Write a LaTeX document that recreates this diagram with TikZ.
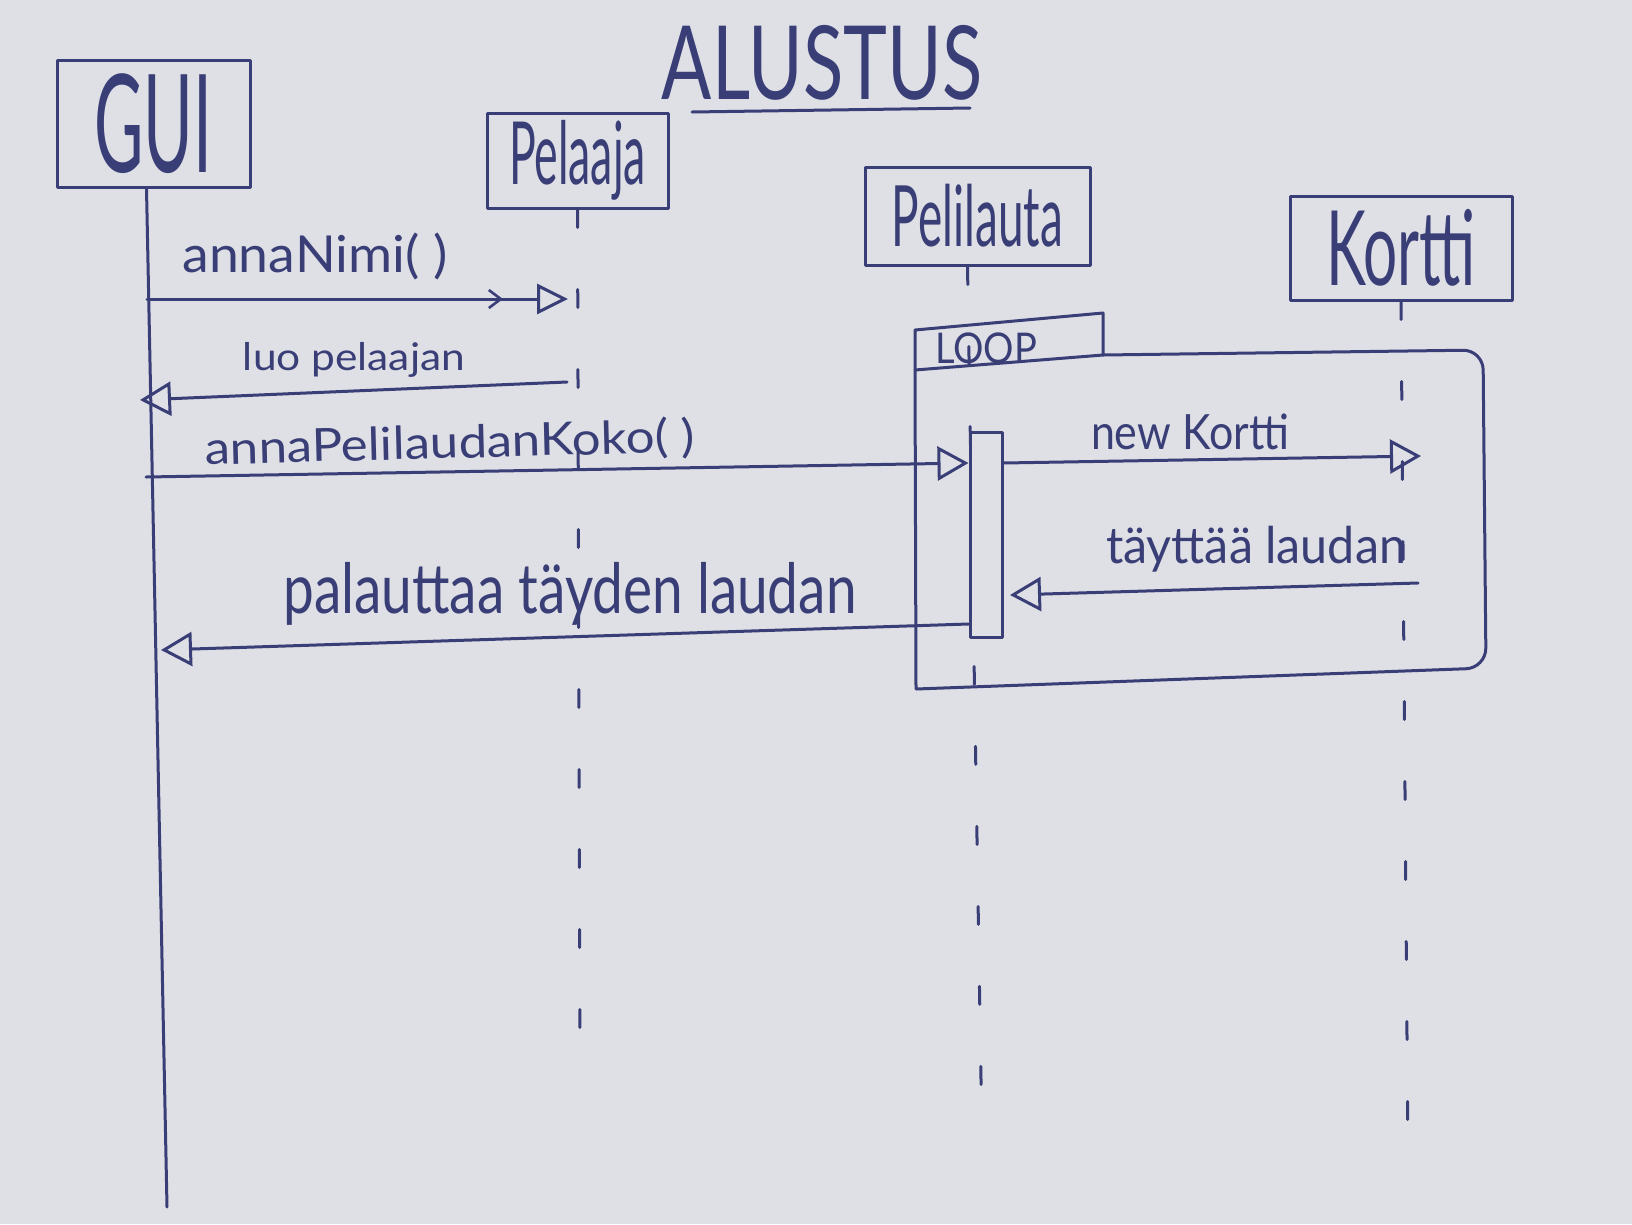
\documentclass[tikz,border=0pt]{standalone}
\usepackage{graphicx}
\usepackage{fontspec}
\setmainfont{Lato}
\usetikzlibrary{arrows.meta}
\definecolor{paper}{RGB}{222,224,230}
\definecolor{ink}{RGB}{58,62,118}
\newcommand{\fitt}[3]{\resizebox*{#1pt}{#2pt}{#3}}
\begin{document}
\begin{tikzpicture}[x=1pt,y=-1pt,
  pen/.style={draw=ink, line width=3pt, line cap=round, line join=round},
  objbox/.style={pen, inner sep=0pt, text=ink, fill=paper},
  lbl/.style={inner sep=0pt, text=ink},
  msg/.style={pen, -{Triangle[open, length=31pt, width=34pt, line width=3pt]}},
  msgtwo/.style={pen, -{Straight Barb[length=12pt, width=18pt, line width=2.6pt, sep=34pt] Triangle[open, length=31pt, width=30pt, line width=3pt]}},
  lifedash/.style={pen, dash pattern=on 18pt off 62pt},
  actbar/.style={pen, fill=paper, inner sep=0pt}
]
\fill[paper] (0,0) rectangle (1632,1224);
\useasboundingbox (0,0) rectangle (1632,1224);

% title
\node[lbl] (title) at (822,63) {\fitt{320}{75}{ALUSTUS}};
\coordinate (ulA) at (692,112);
\coordinate (ulB) at (970,108);
\draw[pen] (ulA) -- (ulB);

% end points of lifelines
\coordinate (guiend) at (167,1207);
\coordinate (pelend) at (580,1072);
\coordinate (plend) at (982,1140);
\coordinate (korend) at (1408,1160);

% object boxes
\node[objbox, minimum width=193pt, minimum height=127pt] (gui) at (153.5,123.5) {\fitt{118}{100}{GUI}};
\node[objbox, minimum width=181pt, minimum height=95pt] (pel) at (577.5,160.5) {\fitt{137}{80}{Pelaaja}};
\node[objbox, minimum width=225pt, minimum height=98pt] (pl) at (977.5,216) {\fitt{171}{63}{Pelilauta}};
\node[objbox, minimum width=222pt, minimum height=104pt] (kor) at (1401,248) {\fitt{150}{77}{Kortti}};

% lifelines
\draw[pen] ([xshift=-7pt]gui.south) -- (guiend);
\draw[lifedash] (pel.south) -- (pelend);
\draw[lifedash] ([xshift=-10pt]pl.south) -- (plend);
\draw[lifedash] (kor.south) -- (korend);

% loop frame
\draw[pen] (915,370) -- (915,330) -- (1103,313) -- (1103,355);
\draw[pen] (916,689) -- (915,370) -- (1103,355) [rounded corners=20pt] -- (1483,350) -- (1486,668) -- (916,689);
\node[lbl] (loop) at (986,348) {\fitt{102}{31}{LOOP}};

% activation bar
\node[actbar, minimum width=32pt, minimum height=205pt] (act) at (986,534.5) {};

% message end points
\coordinate (m1s) at (147,299);
\coordinate (m1e) at (568,299);
\coordinate (m2s) at (567,382);
\coordinate (m2e) at (140,400);
\coordinate (m3s) at (146,477);
\coordinate (m4e) at (1421,456);
\coordinate (m5s) at (1418,583);
\coordinate (m5e) at (1010,595);
\coordinate (m6e) at (161,650);

% messages
\draw[msgtwo] (m1s) -- (m1e);
\draw[msg] (m2s) -- (m2e);
\draw[msg] (m3s) -- (act.west |- 0,463);
\draw[msg] (act.east |- 0,463) -- (m4e);
\draw[msg] (m5s) -- (m5e);
\draw[msg] (act.west |- 0,624) -- (m6e);

% message labels
\node[lbl] (l1) at (315,256) {\fitt{265}{47}{annaNimi( )}};
\node[lbl] (l2) at (354,360) {\fitt{222}{35}{luo pelaajan}};
\node[lbl, rotate=1.5] (l3) at (450,444) {\fitt{490}{42}{annaPelilaudanKoko( )}};
\node[lbl] (l4) at (1190,432) {\fitt{198}{36}{new Kortti}};
\node[lbl] (l5) at (1256,549) {\fitt{300}{46}{täyttää laudan}};
\node[lbl] (l6) at (570,594) {\fitt{573}{63}{palauttaa täyden laudan}};
\end{tikzpicture}
\end{document}
